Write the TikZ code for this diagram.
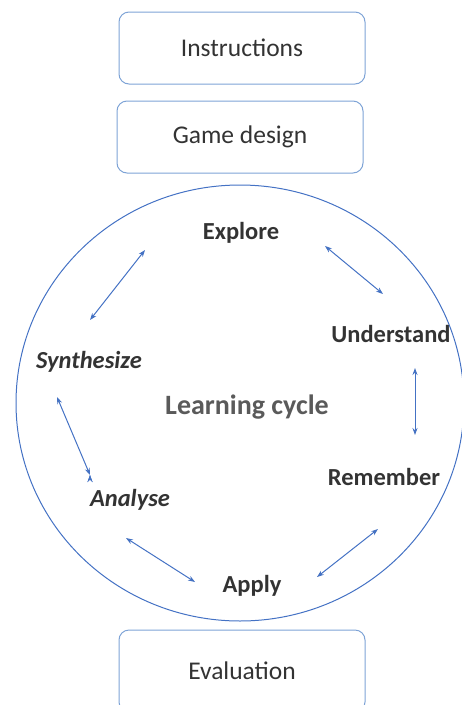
\documentclass[tikz,border=0pt]{standalone}
\usepackage{fontspec}
\setmainfont{Carlito}
\usetikzlibrary{arrows.meta}
\definecolor{boxblue}{HTML}{7EA3D6}
\definecolor{cycleblue}{HTML}{4472C4}
\definecolor{txtgray}{HTML}{333333}
\definecolor{titlegray}{HTML}{5A5A5A}
\begin{document}
\begin{tikzpicture} [
   x=1pt, y=-1pt, <->, >={Stealth[length=7pt,width=5pt]},
   box/.style={draw=boxblue, line width=1pt, rounded corners=10pt,
      minimum width=246pt, minimum height=72pt, text=txtgray,
      font=\fontsize{25.5}{30}\selectfont},
   stage/.style={text=txtgray, font=\bfseries\fontsize{24.5}{29}\selectfont},
   link/.style={draw=cycleblue, line width=1pt}
]
   \useasboundingbox (0,0) rectangle (462,705);
   \node (I) [box] at (242,48) {Instructions};
   \node (G) [box] at (240,137) {Game design};
   \node (V) [box, minimum height=82pt] at (242,671) {Evaluation};
   \draw [-, cycleblue, line width=1pt] (240,403) ellipse [x radius=224pt, y radius=218pt];
   \node (L) [text=titlegray, font=\bfseries\fontsize{28}{33}\selectfont] at (247,407) {Learning cycle};
   \node (E) [stage] at (241,233) {Explore};
   \node (U) [stage] at (391,334) {Understand};
   \node (R) [stage] at (384,477) {Remember};
   \node (A) [stage] at (252,586) {Apply};
   \node (N) [stage, font=\bfseries\itshape\fontsize{24.5}{29}\selectfont] at (130,500) {Analyse};
   \node (S) [stage, font=\bfseries\itshape\fontsize{24.5}{29}\selectfont] at (89,362) {Synthesize};
   % arrow ends round the cycle
   \coordinate (se1) at (90,320);  \coordinate (se2) at (145,250);
   \coordinate (eu1) at (325,246); \coordinate (eu2) at (383,294);
   \coordinate (ur1) at (415,368); \coordinate (ur2) at (415,435);
   \coordinate (ra1) at (378,529); \coordinate (ra2) at (317,577);
   \coordinate (an1) at (195,582); \coordinate (an2) at (126,538);
   \coordinate (ns1) at (90,475);  \coordinate (ns2) at (57,397);
   \path [link] (se1) edge (se2)
                (eu1) edge (eu2)
                (ur1) edge (ur2)
                (ra1) edge (ra2)
                (an1) edge (an2)
                (ns1) edge (ns2);
\end{tikzpicture}
\end{document}
